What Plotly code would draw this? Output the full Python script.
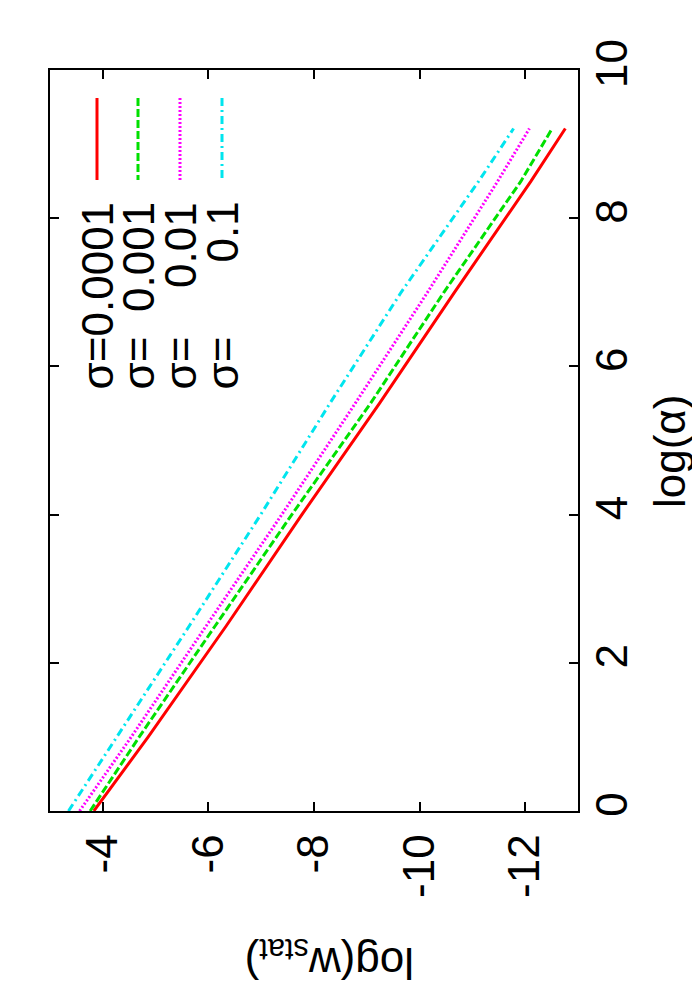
import plotly.graph_objects as go

# ---- data ----
log_alpha = [0, 1, 2.5, 4, 5.5, 7, 8.5, 9.21]
w_sigma_00001 = [-3.83, -4.86, -6.34, -7.77, -9.24, -10.66, -12.11, -12.76]
w_sigma_0001 = [-3.76, -4.69, -6.13, -7.58, -9.07, -10.46, -11.92, -12.51]
w_sigma_001 = [-3.56, -4.54, -5.96, -7.39, -8.78, -10.15, -11.48, -12.08]
w_sigma_01 = [-3.35, -4.27, -5.64, -6.99, -8.30, -9.65, -11.12, -11.78]

series_values = [w_sigma_00001, w_sigma_0001, w_sigma_001, w_sigma_01]
sigma_labels = ["0.0001", "0.001", "0.01", "0.1"]
colors = ["#ff0000", "#00e000", "#ff00ff", "#00e5ee"]
dashes = ["solid", "8px,3px", "2px,2px", "8px,4px,2px,4px"]

alpha_ticks = [0, 2, 4, 6, 8, 10]
w_ticks = [-4, -6, -8, -10, -12]

FONT = "Liberation Sans, Arial, Helvetica, sans-serif"
FS = 44

OFF = 8  # default page body margin
# plot area in page pixels
L, R, T, B = 50, 578, 70, 811
W, H = 700 - OFF, 1000 - OFF


def px_x(p):
    return (p - L) / (R - L)


def px_y(p):
    return (B - p) / (B - T)


fig = go.Figure()
for vals, lab, col, d in zip(series_values, sigma_labels, colors, dashes):
    fig.add_trace(go.Scatter(
        x=vals, y=log_alpha, mode="lines", name="σ=" + lab,
        line=dict(color=col, width=3, dash=d), showlegend=False))

fig.update_layout(
    width=W, height=H,
    margin=dict(l=L - OFF, r=W - (R - OFF), t=T - OFF, b=H - (B - OFF), pad=0),
    paper_bgcolor="white", plot_bgcolor="white",
    font=dict(family=FONT, size=FS, color="black"),
)
fig.update_xaxes(
    range=[-3, -13], tickvals=w_ticks, ticktext=[str(v) for v in w_ticks],
    tickangle=-90, ticks="inside", ticklen=9, tickwidth=1.5, tickcolor="black",
    showline=True, linecolor="black", linewidth=1.5, mirror="ticks",
    showgrid=False, zeroline=False, side="bottom",
    tickfont=dict(family=FONT, size=FS), ticklabelstandoff=4,
)
fig.update_yaxes(
    range=[0, 10], tickvals=alpha_ticks, ticktext=[str(v) for v in alpha_ticks],
    tickangle=-90, ticks="inside", ticklen=9, tickwidth=1.5, tickcolor="black",
    showline=True, linecolor="black", linewidth=1.5, mirror="ticks",
    showgrid=False, zeroline=False, side="right",
    tickfont=dict(family=FONT, size=FS), ticklabelstandoff=-6,
)

# axis titles (rotated like the landscape page)
fig.add_annotation(text="log(α)", xref="paper", yref="paper",
                   x=px_x(669), y=px_y(452), showarrow=False, textangle=-90,
                   font=dict(family=FONT, size=FS), xanchor="center", yanchor="middle")
fig.add_annotation(text="log(w<sub>stat</sub>)", xref="paper", yref="paper",
                   x=px_x(330), y=px_y(960), showarrow=False, textangle=180,
                   font=dict(family=FONT, size=FS), xanchor="center", yanchor="middle")

# key (rotated)
key_x = [97, 138, 180, 222]
for kx, lab, col, d in zip(key_x, sigma_labels, colors, dashes):
    fig.add_shape(type="line", xref="paper", yref="paper",
                  x0=px_x(kx), x1=px_x(kx), y0=px_y(98), y1=px_y(180),
                  line=dict(color=col, width=3, dash=d))
    fig.add_annotation(text=lab, xref="paper", yref="paper",
                       x=px_x(kx), y=px_y(200), showarrow=False, textangle=-90,
                       font=dict(family=FONT, size=FS), xanchor="center", yanchor="top")
    fig.add_annotation(text="σ=", xref="paper", yref="paper",
                       x=px_x(kx), y=px_y(392), showarrow=False, textangle=-90,
                       font=dict(family=FONT, size=FS), xanchor="center", yanchor="bottom")

fig.write_html("out.html")
